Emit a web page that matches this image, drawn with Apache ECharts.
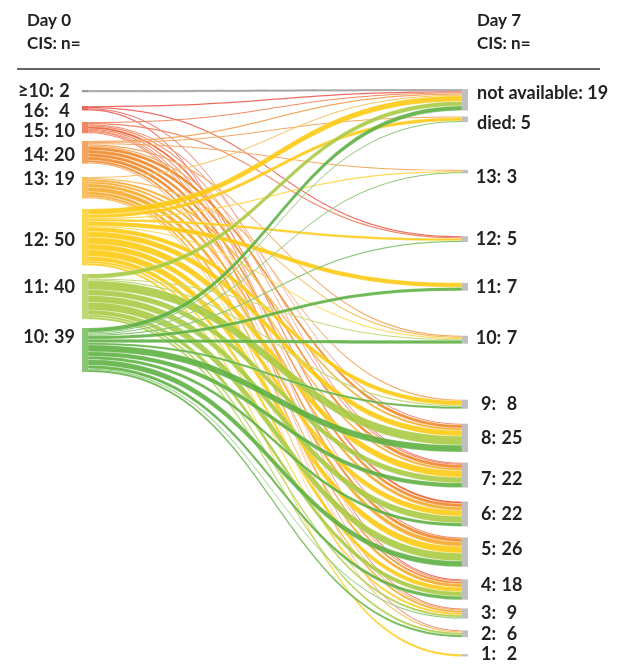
<!DOCTYPE html>
<html>
<head>
<meta charset="utf-8">
<script src="https://cdn.jsdelivr.net/npm/echarts@6/dist/echarts.min.js"></script>
<style>
  html, body { margin: 0; padding: 0; background: #fff; }
  #chart { width: 624px; height: 668px; }
</style>
</head>
<body>
<div id="chart"></div>
<script>
// Day 0 CIS groups (top to bottom) and patient counts
const day0Keys = ['≥10', '16', '15', '14', '13', '12', '11', '10'];
const day0Counts = [2, 4, 10, 20, 19, 50, 40, 39];

// Day 7 outcome groups (top to bottom) and patient counts
const day7Keys = ['not available', 'died', '13', '12', '11', '10', '9', '8', '7', '6', '5', '4', '3', '2', '1'];
const day7Counts = [19, 5, 3, 5, 7, 7, 8, 25, 22, 22, 26, 18, 9, 6, 2];

// flows[i][j]: patients moving from day0Keys[i] to day7Keys[j]
//            NA  d 13 12 11 10  9  8  7  6  5  4  3  2  1
const flows = [
  [2, 0, 0, 0, 0, 0, 0, 0, 0, 0, 0, 0, 0, 0, 0], // ≥10
  [1, 0, 0, 1, 0, 0, 0, 0, 1, 0, 0, 1, 0, 0, 0], // 16
  [1, 0, 0, 1, 0, 0, 0, 1, 1, 2, 1, 1, 1, 1, 0], // 15
  [1, 1, 1, 0, 0, 1, 1, 3, 3, 3, 3, 2, 1, 0, 0], // 14
  [1, 0, 0, 0, 0, 1, 0, 2, 2, 3, 4, 3, 2, 1, 0], // 13
  [5, 3, 1, 2, 4, 1, 4, 5, 6, 5, 6, 4, 2, 0, 2], // 12
  [4, 0, 0, 0, 0, 1, 1, 8, 5, 6, 7, 4, 2, 2, 0], // 11
  [4, 1, 1, 1, 3, 3, 2, 6, 4, 3, 5, 3, 1, 2, 0]  // 10
];

// ---- styling / layout ----
const day0Colors = ['#9a9a9a', '#e52d1e', '#ea5626', '#ef8421', '#f6a623', '#fdc80c', '#a7c940', '#5aaf3f'];
const day7Color = '#bfbfbf';
const FONT = 'Lato';
const H = 668;
const KY = 1.13;                     // pixels per patient
const nodeGap = (H - KY * 184) / (day7Keys.length - 1);
// free space above each node, in pixels
const leftGaps = [90, 13.7, 11.5, 7.7, 13.4, 10.5, 8.5, 8.8];
const rightGaps = [89, 6, 47.8, 63, 40.9, 45, 56, 15, 10.7, 14, 11, 12.6, 8.7, 11.8, 17];
// vertical nudges of the labels
const leftLabelShift = [0, 3, 4, 3, -9, 3, -9, -13];
const rightLabelShift = [-7, 4, 6, 0, 0, -2, 0, 0, 4, 0, -3, -4, 0, 0, -1];

function stackTops(counts, gaps) {
  let y = 0;
  return counts.map((c, i) => {
    y += gaps[i];
    const top = y;
    y += c * KY;
    return top;
  });
}
const leftTops = stackTops(day0Counts, leftGaps);
const rightTops = stackTops(day7Counts, rightGaps);

function fade(hex, a) {
  const n = parseInt(hex.slice(1), 16);
  const r = n >> 16, g = (n >> 8) & 255, b = n & 255;
  const m = v => Math.round(v * a + 255 * (1 - a));
  return 'rgb(' + m(r) + ',' + m(g) + ',' + m(b) + ')';
}

const nodes = [];
day0Keys.forEach((k, i) => {
  nodes.push({
    name: 'd0:' + k,
    depth: 0,
    localX: 0,
    localY: leftTops[i] / H,
    itemStyle: { color: i === 0 ? day0Colors[0] : fade(day0Colors[i], 0.72) },
    label: {
      position: 'left',
      distance: 8,
      offset: [0, leftLabelShift[i]],
      formatter: '{k|' + k + ':}{v|' + day0Counts[i] + '}'
    }
  });
});
day7Keys.forEach((k, j) => {
  const isNum = /^\d+$/.test(k);
  nodes.push({
    name: 'd7:' + k,
    depth: 1,
    localY: rightTops[j] / H,
    itemStyle: { color: day7Color },
    label: {
      position: 'right',
      distance: 9,
      offset: [0, rightLabelShift[j]],
      formatter: isNum
        ? '{rk|' + k + ':}{rv|' + day7Counts[j] + '}'
        : '{t|' + k + ': ' + day7Counts[j] + '}'
    }
  });
});

const links = [];
flows.forEach((row, i) => {
  row.forEach((v, j) => {
    if (v > 0) {
      links.push({
        source: 'd0:' + day0Keys[i],
        target: 'd7:' + day7Keys[j],
        value: v,
        lineStyle: { color: day0Colors[i] }
      });
    }
  });
});

const labelText = { fontFamily: FONT, fontWeight: 'bold', fontSize: 18, color: '#222' };
const headFont = 'bold 17px Lato';

const chart = echarts.init(document.getElementById('chart'), null, { renderer: 'canvas' });
chart.setOption({
  backgroundColor: '#fff',
  animation: false,
  graphic: [
    { type: 'text', left: 27, top: 12, style: { text: 'Day 0', font: headFont, fill: '#222' } },
    { type: 'text', left: 27, top: 35, style: { text: 'CIS: n=', font: headFont, fill: '#222' } },
    { type: 'text', left: 477, top: 12, style: { text: 'Day 7', font: headFont, fill: '#222' } },
    { type: 'text', left: 477, top: 35, style: { text: 'CIS: n=', font: headFont, fill: '#222' } },
    { type: 'line', shape: { x1: 17, y1: 69, x2: 600, y2: 69 }, style: { stroke: '#666', lineWidth: 2.2 } }
  ],
  series: [{
    type: 'sankey',
    left: 82,
    right: 156,
    top: 0,
    bottom: 0,
    nodeWidth: 6,
    nodeGap: nodeGap,
    layoutIterations: 0,
    draggable: false,
    emphasis: { disabled: true },
    data: nodes,
    links: links,
    label: Object.assign({
      rich: {
        k: Object.assign({ width: 38, align: 'right' }, labelText),
        v: Object.assign({ width: 19, align: 'left' }, labelText),
        rk: Object.assign({ width: 23, align: 'right' }, labelText),
        rv: Object.assign({ width: 22, align: 'left', padding: [0, 0, 0, 1] }, labelText),
        t: Object.assign({}, labelText)
      }
    }, labelText),
    itemStyle: { borderWidth: 0 },
    lineStyle: {
      opacity: 0.88,
      curveness: 0.5,
      borderColor: 'rgba(255,255,255,0.55)',
      borderWidth: 0.5
    }
  }]
});
</script>
</body>
</html>
